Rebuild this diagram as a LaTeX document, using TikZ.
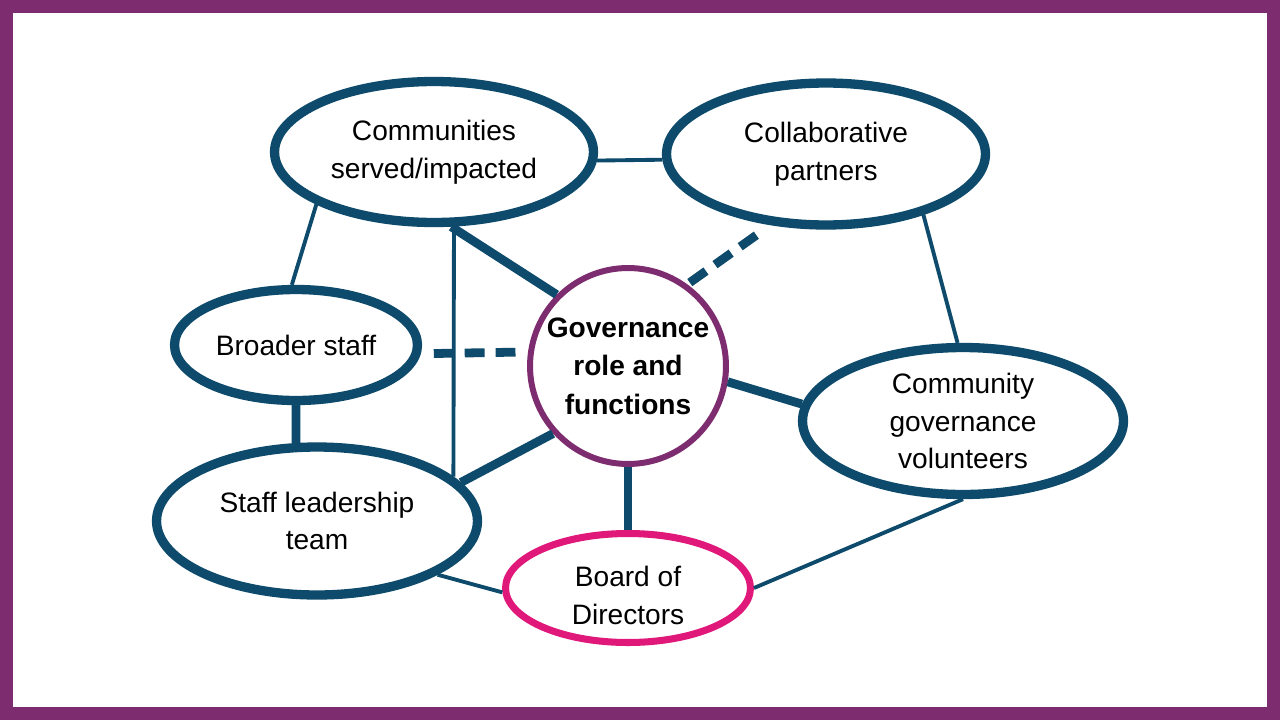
\documentclass[tikz,border=0pt]{standalone}
\usepackage{fontspec}
\setmainfont{Liberation Sans}
\usepackage{tikz}
\usetikzlibrary{shapes}
\definecolor{govblue}{HTML}{0D4A6B}
\definecolor{govpurple}{HTML}{7E2C70}
\definecolor{govpink}{HTML}{E0187A}
\tikzstyle{bubble} = [draw=govblue, fill=white, line width=5.3pt, ellipse, inner sep=0pt, align=center, font=\fontsize{16}{21.5}\selectfont]
\tikzstyle{link} = [draw=govblue, line width=2.2pt]
\tikzstyle{strong} = [draw=govblue, line width=5pt]
\tikzstyle{dashlink} = [strong, dash pattern=on 11.3pt off 6.3pt]

\begin{document}
\begin{tikzpicture}[x=0.02cm, y=-0.02cm]
  % frame
  \fill[govpurple] (0,0) rectangle (1280,720);
  \fill[white] (13,13) rectangle (1267,707);

  \node[bubble, minimum width=6.38cm, minimum height=2.82cm] (comm) at (434,152) {Communities\\served/impacted};
  \node[bubble, minimum width=6.38cm, minimum height=2.84cm] (collab) at (826,154) {Collaborative\\partners};
  \node[bubble, minimum width=4.86cm, minimum height=2.22cm] (broad) at (296,345) {Broader staff};
  \node[bubble, minimum width=6.42cm, minimum height=2.94cm] (vol) at (963,421) {Community\\governance\\volunteers};
  \node[bubble, minimum width=6.42cm, minimum height=2.96cm] (lead) at (317,521) {Staff leadership\\team};
  \node[bubble, draw=govpink, line width=4pt, minimum width=4.9cm, minimum height=2.18cm, text height=42pt] (board) at (628,588) {Board of\\Directors};
  \node[circle, draw=govpurple, fill=white, line width=3.4pt, inner sep=0pt, minimum size=3.92cm, align=center,
        font=\fontsize{16}{22}\selectfont\bfseries] (gov) at (628,366) {Governance\\role and\\functions};

  \draw[link] (comm.-3) -- (collab.-178);
  \draw[link] (comm.-156) -- (broad.94);
  \draw[link] (comm.-75) -- (lead.18);
  \draw[strong] (comm.-77) -- (gov.135);
  \draw[dashlink, shorten <=0.26cm, shorten >=0.2cm] (broad.-4) -- (gov.172);
  \draw[dashlink, shorten <=0.06cm, shorten >=0.32cm] (gov.54) -- (collab.-128);
  \draw[link] (collab.-32) -- (vol.94);
  \draw[strong] (gov.-9) -- (vol.174);
  \draw[strong] (broad.south) -- (lead.105);
  \draw[strong] (lead.15) -- (gov.-138);
  \draw[strong] (gov.south) -- (board.north);
  \draw[link] (lead.-24) -- (board.182);
  \draw[link] (vol.south) -- (board.east);
\end{tikzpicture}
\end{document}
